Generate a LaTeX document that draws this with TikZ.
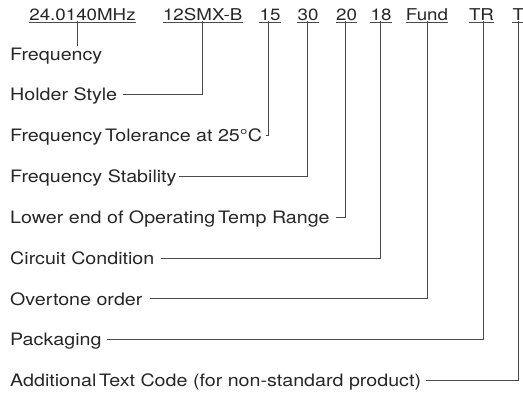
\documentclass[tikz,border=0pt]{standalone}
\usepackage{fontspec}
\setmainfont[FakeStretch=1.15]{TeX Gyre Heros}
\usepackage{tikz}

\definecolor{inkgray}{HTML}{262626}
\definecolor{leadgray}{HTML}{4A4A4A}

\begin{document}
\begin{tikzpicture}[x=1pt,y=-1pt,
  code/.style={anchor=base,inner sep=0pt,text=inkgray,font=\fontsize{16.3}{19}\selectfont},
  part/.style={anchor=base west,inner sep=0pt,text height=12.3pt,text depth=0pt,text=inkgray,font=\fontsize{17.1}{20}\selectfont},
  lead/.style={draw=leadgray,line width=0.8pt},
  uline/.style={draw=leadgray,line width=0.9pt}]

\useasboundingbox (0,0) rectangle (523,392);

% the part number
\node[code] (freq) at (82.5,20.7) {24.0140MHz};

\node[code] (holder) at (202.7,20.7) {12SMX-B};

\node[code] (tol) at (270,20.7) {15};

\node[code] (stab) at (308,20.7) {30};

\node[code] (temp) at (346.5,20.7) {20};

\node[code] (circ) at (381,20.7) {18};

\node[code] (ovt) at (427,20.7) {Fund};

\node[code] (pack) at (481.5,20.7) {TR};

\node[code] (addl) at (518.3,20.7) {T};

\foreach \c in {freq,holder,tol,stab,temp,circ,ovt,pack,addl}
  \draw[uline] ([yshift=-2pt]\c.base west) -- ([yshift=-2pt]\c.base east);

% what each field means
\node[part] (lfreq) at (10,60) {Frequency};

\node[part] (lholder) at (10,100.8) {Holder Style};

\node[part] (ltol) at (10,141.7) {Frequency\,Tolerance at 25°C};

\node[part] (lstab) at (10,182.5) {Frequency Stability};

\node[part] (ltemp) at (10,223.4) {Lower end of Operating\,Temp Range};

\node[part] (lcirc) at (10,264.2) {Circuit Condition};

\node[part] (lovt) at (10,305) {Overtone order};

\node[part] (lpack) at (10,345.9) {Packaging};

\node[part] (laddl) at (10,386.7) {Additional\,Text Code (for non-standard product)};

% leads
\coordinate (freqtap) at ([xshift=-4.8pt]freq.south);

\draw[lead] (freqtap) -- ([yshift=1.5pt]freqtap |- lfreq.north);

\draw[lead] (holder.south) |- ([xshift=6pt]lholder.east);

\draw[lead] ([xshift=-1.3pt]tol.south) |- ([xshift=4pt]ltol.east);

\draw[lead] ([xshift=-1pt]stab.south) |- ([xshift=2pt]lstab.east);

\draw[lead] ([xshift=-1.5pt]temp.south) |- ([xshift=6pt]ltemp.east);

\draw[lead] ([xshift=-1pt]circ.south) |- ([xshift=6pt]lcirc.east);

\draw[lead] (ovt.south) |- ([xshift=7pt]lovt.east);

\draw[lead] ([xshift=1.8pt]pack.south) |- ([xshift=5pt]lpack.east);

\draw[lead] (addl.south) |- ([xshift=5pt]laddl.east);

\end{tikzpicture}
\end{document}
